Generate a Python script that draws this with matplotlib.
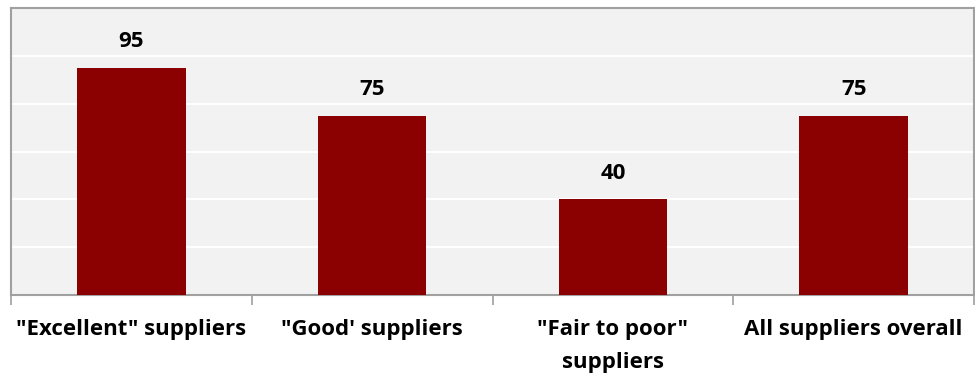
import matplotlib
matplotlib.use('Agg')
import matplotlib.pyplot as plt
import numpy as np

categories = ['"Excellent" suppliers', '"Good\' suppliers', '"Fair to poor"\nsuppliers', 'All suppliers overall']
values = [95, 75, 40, 75]

bar_color = '#8B0000'
frame_color = '#A0A0A0'

plt.rcParams['font.family'] = ['Open Sans', 'DejaVu Sans']

fig = plt.figure(figsize=(9.75, 3.74), dpi=100)
ax = fig.add_axes([11 / 975, 79 / 374, 963 / 975, 287 / 374])
ax.set_facecolor('#F2F2F2')

x = np.arange(len(values))
bars = ax.bar(x, values, width=0.45, color=bar_color, zorder=3)

for xi, v in zip(x, values):
    ax.text(xi, v + 6.5, str(v), ha='center', va='bottom', fontsize=16,
            fontweight='bold', color='black')

ax.set_xlim(-0.5, len(values) - 0.5)
ax.set_ylim(0, 120)
ax.set_yticks(np.arange(20, 120, 20))
ax.yaxis.grid(True, color='white', linewidth=1.5, zorder=0)
ax.tick_params(axis='y', left=False, labelleft=False)

ax.set_xticks(x)
ax.set_xticklabels(categories, fontsize=16, fontweight='bold', linespacing=1.75)
ax.tick_params(axis='x', which='major', length=0, pad=17)
ax.set_xticks(np.arange(-0.5, len(values), 1), minor=True)
ax.tick_params(axis='x', which='minor', length=7, color=frame_color, width=1.2)

for s in ax.spines.values():
    s.set_color(frame_color)
    s.set_linewidth(1.5)

fig.savefig('out.png', dpi=100)
